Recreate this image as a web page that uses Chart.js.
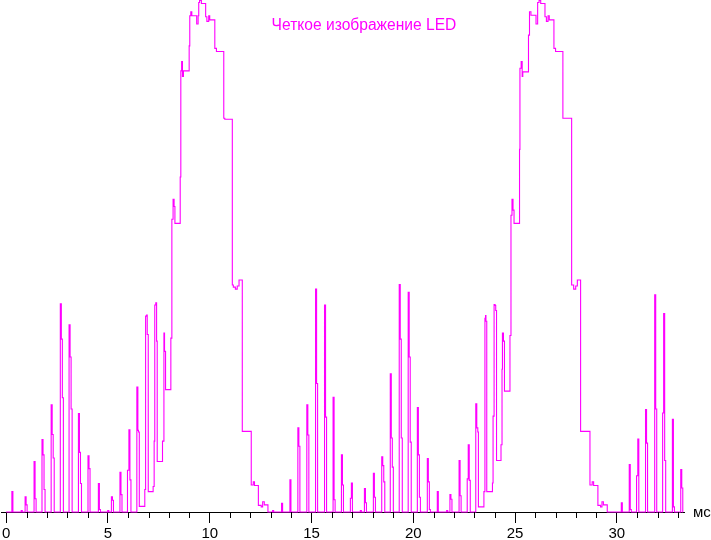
<!DOCTYPE html>
<html>
<head>
<meta charset="utf-8">
<script src="https://cdn.jsdelivr.net/npm/chart.js@4"></script>
<style>
  html, body { margin: 0; padding: 0; background: #fff; }
  #wrap { width: 711px; height: 540px; position: relative; }
</style>
</head>
<body>
<div id="wrap"><canvas id="scopeChart"></canvas></div>
<script>
// Oscilloscope trace: each pair is (time in ms, brightness level in %) at which the level changes
const timeMs = [
  0,
  // bursts before first frame
  0.28, 0.33, 0.74, 0.79, 0.93, 0.98, 1.03,
  1.37, 1.42, 1.47, 1.76, 1.81, 1.86, 1.91,
  2.21, 2.26, 2.31, 2.36, 2.66, 2.71, 2.76, 2.81,
  3.09, 3.14, 3.19, 3.24, 3.55, 3.60, 3.65, 3.70,
  4.02, 4.07, 4.12, 4.53, 4.58, 4.63, 4.99, 5.04,
  5.17, 5.22, 5.27, 5.59, 5.64, 5.69, 5.96, 6.03, 6.08, 6.13,
  // first frame
  6.42, 6.47, 6.50, 6.54, 6.81, 6.85, 6.90, 6.93, 6.98,
  7.22, 7.27, 7.30, 7.35, 7.39, 7.42, 7.68, 7.75, 7.78, 7.83,
  8.09, 8.14, 8.20, 8.25, 8.29, 8.55, 8.58, 8.62, 8.66, 8.71,
  8.99, 9.02, 9.07, 9.12, 9.36, 9.43, 9.46, 9.50, 9.59,
  9.80, 9.86, 9.95, 10.00, 10.25, 10.33, 10.69, 10.74,
  11.11, 11.16, 11.26, 11.35, 11.44, 11.60,
  12.04, 12.14, 12.20, 12.39, 12.53, 12.60, 12.68, 12.86,
  // bursts between frames
  13.09, 13.14, 13.53, 13.58, 13.94, 13.99,
  14.33, 14.38, 14.43, 14.77, 14.82, 14.87,
  15.20, 15.25, 15.30, 15.64, 15.69, 15.74,
  16.06, 16.11, 16.16, 16.47, 16.52, 16.57, 16.91, 16.96, 17.01,
  17.40, 17.45, 17.60, 17.65, 17.70, 18.04, 18.09, 18.14,
  18.45, 18.50, 18.55, 18.60, 18.87, 18.92, 18.97, 19.02,
  19.31, 19.36, 19.41, 19.46, 19.75, 19.80, 19.85, 19.90,
  20.20, 20.25, 20.30, 20.35, 20.69, 20.74, 20.79, 20.84,
  21.18, 21.23, 21.64, 21.69, 21.80, 21.85, 21.90,
  22.25, 22.30, 22.35, 22.65, 22.70, 22.75, 22.80,
  // second frame
  23.07, 23.12, 23.17, 23.20, 23.47, 23.52, 23.55, 23.57, 23.61,
  23.89, 23.92, 23.97, 24.02, 24.05, 24.09, 24.31, 24.36, 24.38, 24.43, 24.48,
  24.75, 24.80, 24.85, 24.90, 24.95, 25.22, 25.24, 25.30, 25.35, 25.38,
  25.66, 25.71, 25.78, 26.03, 26.11, 26.18, 26.26,
  26.47, 26.54, 26.62, 26.68, 26.91, 26.99, 27.35,
  27.78, 27.88, 27.98, 28.06, 28.22,
  28.68, 28.79, 28.86, 29.07, 29.20, 29.27, 29.34, 29.53,
  // bursts after second frame
  30.22, 30.27, 30.61, 30.66, 30.71, 30.97, 31.03, 31.08,
  31.41, 31.46, 31.51, 31.86, 31.91, 31.96,
  32.25, 32.30, 32.35, 32.40, 32.73, 32.78, 32.83,
  33.14, 33.19, 33.24, 33.25
];

const level = [
  0,
  4.0, 0, 0.3, 0, 3.0, 1.4, 0,
  9.9, 2.6, 0, 14.2, 11.2, 4.4, 0,
  21.0, 15.2, 10.6, 0, 40.8, 33.9, 22.4, 0,
  36.7, 30.4, 20.2, 0, 19.3, 11.7, 5.6, 0,
  11.0, 8.5, 0, 5.6, 0.5, 0, 0.3, 0,
  3.0, 2.3, 0, 7.8, 3.4, 0, 8.2, 16.1, 6.3, 0,
  24.5, 16.0, 15.7, 1.1, 4.4, 38.4, 38.6, 34.8, 4.0,
  5.0, 13.9, 40.6, 41.0, 33.5, 9.9, 13.9, 35.1, 31.5, 24.0,
  34.1, 57.4, 61.3, 59.9, 56.6, 65.7, 86.5, 88.3, 85.4, 86.5,
  91.4, 97.3, 98.1, 97.3, 95.7, 97.3, 99.9, 100.3, 99.7,
  97.1, 96.2, 97.3, 96.5, 90.9, 90.3, 77.2, 77.0,
  44.5, 44.1, 43.7, 44.3, 45.5, 15.8,
  5.3, 5.9, 5.2, 1.3, 1.0, 2.0, 1.4, 0,
  0.3, 0, 1.7, 0, 6.3, 0,
  16.5, 12.9, 0, 21.0, 15.1, 0,
  43.7, 25.2, 0, 40.6, 18.6, 0,
  22.5, 2.4, 0, 11.2, 5.3, 0, 2.7, 5.7, 0,
  0.3, 0, 4.6, 1.8, 0, 7.6, 2.9, 0,
  10.8, 9.1, 5.9, 0, 27.1, 14.5, 8.8, 0,
  44.6, 33.9, 14.5, 0, 43.1, 30.4, 13.7, 0,
  20.5, 11.2, 2.9, 0, 10.5, 5.9, 0.5, 0,
  4.0, 0, 0.3, 0, 3.4, 2.5, 0,
  10.1, 3.2, 0, 6.5, 13.2, 6.2, 0,
  21.2, 16.5, 15.7, 1.0, 4.0, 38.0, 38.5, 37.4, 4.0,
  5.7, 18.8, 40.7, 40.5, 39.5, 10.1, 13.2, 28.0, 35.1, 33.5, 23.7,
  34.6, 58.2, 61.3, 59.2, 56.6, 71.1, 87.0, 88.3, 85.4, 86.3,
  93.5, 98.1, 97.4, 95.7, 99.9, 100.3, 99.7,
  97.1, 96.2, 97.3, 96.5, 90.9, 90.3, 77.2,
  44.5, 43.7, 44.3, 45.5, 15.8,
  5.3, 5.9, 5.2, 1.3, 1.0, 2.0, 1.4, 0,
  1.8, 0, 9.3, 0.5, 0, 7.1, 14.3, 0,
  20.1, 13.5, 0, 42.6, 20.2, 0,
  19.4, 38.9, 10.1, 0, 18.2, 1.0, 0,
  8.3, 4.7, 0, 0
];

const labeledTicks = [0, 5, 10, 15, 20, 25, 30];
const chartTitle = 'Четкое изображение LED';
const unitLabel = 'мс';

const traceColor = '#ff00ff';
const fontFamily = '"Liberation Sans", Arial, sans-serif';

const points = timeMs.map((t, i) => ({ x: t, y: level[i] }));

// minor ticks, title and unit text
const decorPlugin = {
    id: 'decor',
    afterDraw(chart) {
        const ctx = chart.ctx;
        const xs = chart.scales.x;
        const bottom = chart.chartArea.bottom;
        ctx.save();
        ctx.strokeStyle = '#000';
        ctx.lineWidth = 1;
        xs.ticks.forEach(tick => {
            if (labeledTicks.includes(tick.value)) return;
            const px = Math.round(xs.getPixelForValue(tick.value)) + 0.5;
            ctx.beginPath();
            ctx.moveTo(px, bottom);
            ctx.lineTo(px, bottom + 6);
            ctx.stroke();
        });

        ctx.font = '15px ' + fontFamily;
        ctx.fillStyle = '#000';
        ctx.textAlign = 'left';
        ctx.textBaseline = 'middle';
        ctx.fillText(unitLabel, chart.chartArea.right + 9, bottom + 1);

        ctx.font = '15.6px ' + fontFamily;
        ctx.fillStyle = traceColor;
        ctx.textAlign = 'center';
        ctx.fillText(chartTitle, 364, 26);
        ctx.restore();
    }
};

new Chart(document.getElementById('scopeChart'), {
    type: 'line',
    data: {
        datasets: [{
            data: points,
            borderColor: traceColor,
            borderWidth: 1.1,
            pointRadius: 0,
            stepped: true,
            tension: 0,
            fill: false,
            clip: false
        }]
    },
    options: {
        responsive: true,
        maintainAspectRatio: false,
        animation: false,
        layout: { padding: { top: 2, right: 27, left: 0, bottom: 0 } },
        plugins: {
            legend: { display: false },
            tooltip: { enabled: false }
        },
        scales: {
            x: {
                type: 'linear',
                min: -0.21,
                max: 33.3,
                afterFit: scale => { scale.height = 28; },
                border: { display: true, color: '#000', width: 1 },
                grid: {
                    drawOnChartArea: false,
                    drawTicks: true,
                    tickLength: 11,
                    tickColor: c => labeledTicks.includes(c.tick && c.tick.value) ? '#000' : 'rgba(0,0,0,0)'
                },
                ticks: {
                    stepSize: 1,
                    includeBounds: false,
                    autoSkip: false,
                    maxRotation: 0,
                    padding: 2,
                    color: '#000',
                    font: { family: fontFamily, size: 15 },
                    callback: v => labeledTicks.includes(v) ? String(v) : ''
                }
            },
            y: {
                display: false,
                min: 0,
                max: 100
            }
        }
    },
    plugins: [decorPlugin]
});
</script>
</body>
</html>
